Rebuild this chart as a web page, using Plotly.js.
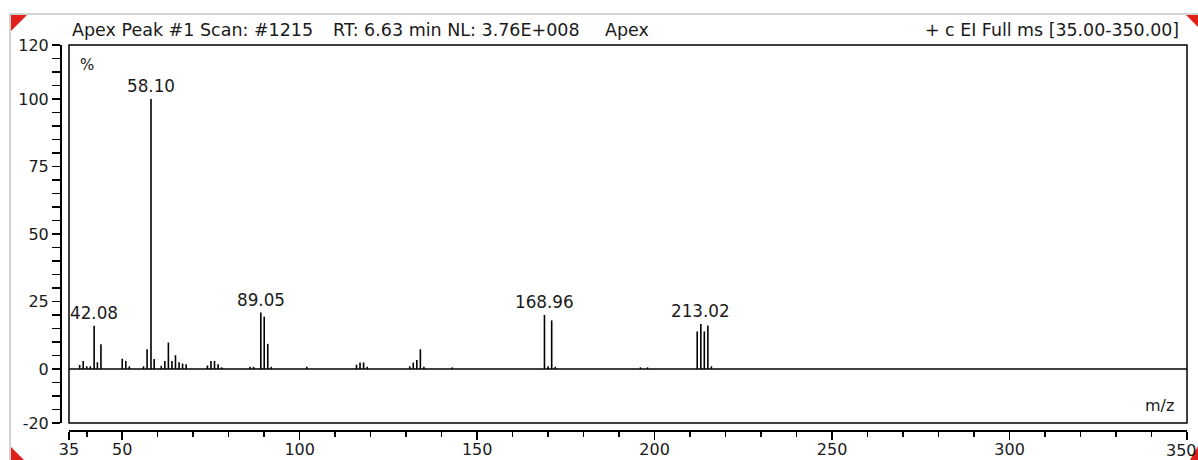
<!DOCTYPE html>
<html>
<head>
<meta charset="utf-8">
<script src="https://cdn.plot.ly/plotly-3.0.1.min.js"></script>
<style>html,body{margin:0;padding:0;background:#fff;}#chart{width:1198px;height:460px;}</style>
</head>
<body>
<div id="chart"></div>
<script>
// ---- data ----
const mz = [38, 39, 40, 41, 42.08, 43, 44, 50, 51, 52, 56, 57, 58.10, 59,
  61, 62, 63, 64, 65, 66, 67, 68, 74, 75, 76, 77, 78, 86, 87, 89.05, 90, 91, 92,
  102, 116, 117, 118, 119, 131, 132, 133, 134, 135, 143,
  168.96, 170, 171, 172, 196, 198, 212, 213.02, 214, 215, 216];
const intensity = [1.5, 3.0, 1.0, 1.0, 16.0, 2.5, 9.2, 3.8, 3.0, 1.0, 1.0, 7.3, 100, 3.7,
  1.2, 3.0, 9.8, 3.0, 5.1, 2.5, 2.0, 1.8, 1.3, 3.0, 3.0, 1.8, 0.6, 0.8, 0.8, 20.9, 19.4, 9.3, 0.8,
  0.8, 1.6, 2.4, 2.4, 0.8, 1.0, 2.4, 3.3, 7.3, 0.8, 0.6,
  20.0, 1.0, 18.0, 0.8, 0.6, 0.6, 13.9, 16.7, 13.9, 16.1, 1.0];
const labelledPeaks = [42.08, 58.10, 89.05, 168.96, 213.02];
const xTickVals = [35, 50, 100, 150, 200, 250, 300, 350];
const yTickVals = [-20, 0, 25, 50, 75, 100, 120];
const headerLeft = ["Apex Peak #1 Scan: #1215", "RT: 6.63 min NL: 3.76E+008", "Apex"];
const headerRight = "+ c EI Full ms [35.00-350.00]";

// ---- geometry helpers (pixel -> paper) ----
const W = 1198, H = 460, ML = 60, MR = 11, MT = 45, MB = 30;
const PW = W - ML - MR, PH = H - MT - MB;
const px = x => (x - ML) / PW;
const py = y => (H - MB - y) / PH;
const xDomStart = px(69);
const yDomStart = py(423);

// stick spectrum built from the data arrays
const sx = [], sy = [];
mz.forEach((m, i) => { sx.push(m, m, null); sy.push(0, intensity[i], null); });

const FONT = "DejaVu Sans, Liberation Sans, Arial, sans-serif";
const TXT = "#1a1a1a";

const annotations = labelledPeaks.map(m => ({
  x: m, y: intensity[mz.indexOf(m)], xref: 'x', yref: 'y',
  text: m.toFixed(2), showarrow: false, xanchor: 'center', yanchor: 'middle', yshift: 13,
  font: {family: FONT, size: 16.8, color: TXT}
}));
const hdrX = [70, 331, 603];
headerLeft.forEach((t, i) => annotations.push({
  x: px(hdrX[i]), y: py(30), xref: 'paper', yref: 'paper', text: t, showarrow: false,
  xanchor: 'left', yanchor: 'middle', font: {family: FONT, size: 17.5, color: TXT}
}));
annotations.push({x: px(1181), y: py(30), xref: 'paper', yref: 'paper', text: headerRight,
  showarrow: false, xanchor: 'right', yanchor: 'middle', font: {family: FONT, size: 17.4, color: TXT}});
annotations.push({x: px(78), y: py(65), xref: 'paper', yref: 'paper', text: '%',
  showarrow: false, xanchor: 'left', yanchor: 'middle', font: {family: FONT, size: 15, color: TXT}});
annotations.push({x: px(1176), y: py(405), xref: 'paper', yref: 'paper', text: 'm/z',
  showarrow: false, xanchor: 'right', yanchor: 'middle', font: {family: FONT, size: 16, color: TXT}});
// last x tick label, kept inside the page edge
const lastTick = xTickVals[xTickVals.length - 1];
annotations.push({x: lastTick, y: py(450), xref: 'x', yref: 'paper', text: String(lastTick),
  showarrow: false, xanchor: 'center', xshift: -6, yanchor: 'middle',
  font: {family: FONT, size: 16, color: TXT}});

const tri = pts => 'M' + pts.map(p => px(p[0]) + ',' + py(p[1])).join(' L') + ' Z';
const shapes = [
  // plot box
  {type: 'rect', xref: 'paper', yref: 'paper', x0: xDomStart, x1: 1, y0: yDomStart, y1: 1,
   line: {color: '#000', width: 1.5}},
  // baseline at 0
  {type: 'line', xref: 'paper', yref: 'y', x0: xDomStart, x1: 1, y0: 0, y1: 0,
   line: {color: '#000', width: 1.5}},
  // outer frame
  {type: 'line', xref: 'paper', yref: 'paper', x0: px(10), x1: px(1198), y0: py(14), y1: py(14),
   line: {color: '#a8a8a8', width: 1}},
  {type: 'line', xref: 'paper', yref: 'paper', x0: px(10), x1: px(10), y0: py(14), y1: py(460),
   line: {color: '#a8a8a8', width: 1}},
  // red corner markers
  {type: 'path', xref: 'paper', yref: 'paper', path: tri([[11, 15], [27, 15], [11, 31]]),
   fillcolor: '#e0201a', line: {width: 0}},
  {type: 'path', xref: 'paper', yref: 'paper', path: tri([[1198, 15], [1186, 15], [1198, 27]]),
   fillcolor: '#e0201a', line: {width: 0}},
  {type: 'path', xref: 'paper', yref: 'paper', path: tri([[11, 460], [11, 447], [24, 460]]),
   fillcolor: '#e0201a', line: {width: 0}},
  {type: 'path', xref: 'paper', yref: 'paper', path: tri([[1198, 460], [1198, 446], [1190, 460]]),
   fillcolor: '#e0201a', line: {width: 0}}
];

const data = [{
  type: 'scatter', mode: 'lines', x: sx, y: sy, connectgaps: false,
  line: {color: '#000', width: 1.6}, hoverinfo: 'skip', showlegend: false
}];

const layout = {
  width: W, height: H,
  margin: {l: ML, r: MR, t: MT, b: MB, pad: 0},
  paper_bgcolor: '#fff', plot_bgcolor: '#fff',
  showlegend: false,
  xaxis: {
    range: [35, 350], domain: [xDomStart, 1], anchor: 'free', position: 0,
    showline: true, linecolor: '#000', linewidth: 1.5,
    ticks: 'outside', ticklen: 8, tickwidth: 1.5, tickcolor: '#000',
    tickmode: 'array', tickvals: xTickVals,
    ticktext: xTickVals.map(v => v === lastTick ? '' : String(v)),
    ticklabelstandoff: -4,
    minor: {tick0: 0, dtick: 10, ticks: 'outside', ticklen: 5, tickwidth: 1.5, tickcolor: '#000', showgrid: false},
    showgrid: false, zeroline: false,
    tickfont: {family: FONT, size: 16, color: TXT}
  },
  yaxis: {
    range: [-20, 120], domain: [yDomStart, 1], anchor: 'free', position: 0,
    showline: true, linecolor: '#000', linewidth: 1.5,
    ticks: 'outside', ticklen: 8, tickwidth: 1.5, tickcolor: '#000',
    tickmode: 'array', tickvals: yTickVals, ticktext: yTickVals.map(String),
    minor: {tick0: 0, dtick: 5, ticks: 'outside', ticklen: 8, tickwidth: 1.5, tickcolor: '#000', showgrid: false},
    showgrid: false, zeroline: false,
    tickfont: {family: FONT, size: 16, color: TXT}
  },
  annotations: annotations,
  shapes: shapes
};

Plotly.newPlot('chart', data, layout, {displayModeBar: false, staticPlot: true});
</script>
</body>
</html>
